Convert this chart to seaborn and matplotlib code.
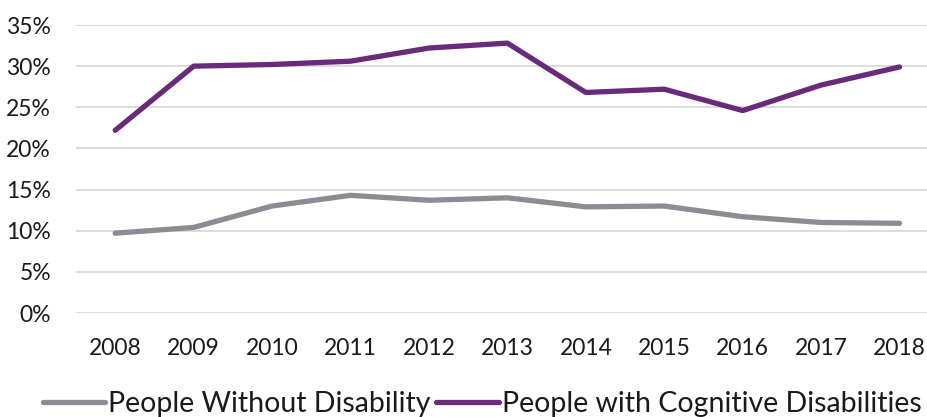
import matplotlib
matplotlib.use("Agg")
import matplotlib.pyplot as plt
import seaborn as sns
import pandas as pd
from matplotlib.ticker import PercentFormatter

years = ["2008", "2009", "2010", "2011", "2012", "2013",
         "2014", "2015", "2016", "2017", "2018"]
without_disability = [9.7, 10.4, 13.0, 14.3, 13.7, 14.0, 12.9, 13.0, 11.7, 11.0, 10.9]
cognitive_disabilities = [22.2, 30.0, 30.2, 30.6, 32.2, 32.8, 26.8, 27.2, 24.6, 27.7, 29.9]
series_names = ["People Without Disability", "People with Cognitive Disabilities"]
colors = ["#8E8B94", "#6A2A7C"]

df = pd.DataFrame({
    "year": years * 2,
    "value": without_disability + cognitive_disabilities,
    "series": [series_names[0]] * len(years) + [series_names[1]] * len(years),
})

sns.set_theme(style="white")
plt.rcParams["font.family"] = ["Lato", "DejaVu Sans"]

fig = plt.figure(figsize=(9.27, 4.17), dpi=100)
ax = fig.add_axes([76 / 927, 1 - 313 / 417, (927 - 76) / 927, (313 - 25) / 417])

sns.lineplot(data=df, x="year", y="value", hue="series", hue_order=series_names,
             palette=colors, linewidth=3.8, sort=False, ax=ax,
             solid_capstyle="round", solid_joinstyle="round")

ax.set_ylim(0, 35)
ax.set_yticks(range(0, 36, 5))
ax.yaxis.set_major_formatter(PercentFormatter(decimals=0))
ax.set_xlim(-0.5, 10.35)
ax.grid(axis="y", color="#D9D9D9", linewidth=1.3)
ax.set_axisbelow(True)
for s in ax.spines.values():
    s.set_visible(False)
ax.set_xlabel("")
ax.set_ylabel("")
ax.tick_params(axis="both", length=0, labelsize=16.5, colors="#1a1a1a")
ax.tick_params(axis="x", pad=18)
ax.tick_params(axis="y", pad=18)

handles, labels = ax.get_legend_handles_labels()
ax.legend(handles, labels, loc="center", bbox_to_anchor=(482 / 927, 13 / 417),
          bbox_transform=fig.transFigure, ncol=2, frameon=False,
          fontsize=20.5, handlelength=2.2, columnspacing=0.2, handletextpad=0.1,
          labelcolor="#1a1a1a")

fig.savefig("out.png", dpi=100)
